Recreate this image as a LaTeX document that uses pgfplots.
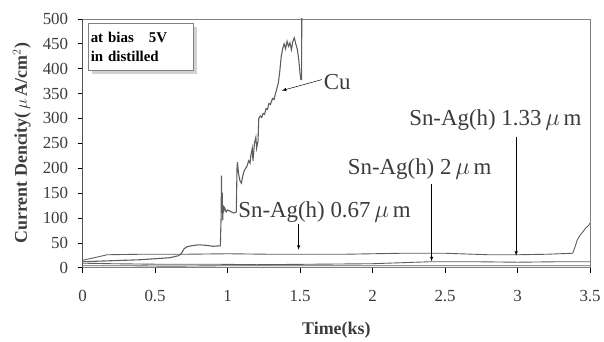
\documentclass[border=0pt]{standalone}
\usepackage{pgfplots}
\pgfplotsset{compat=1.18}
\usepackage{fontspec}
\setmainfont{Liberation Serif}
\usetikzlibrary{shadows}
\definecolor{linegray}{HTML}{5E5E5E}
\definecolor{txtgray}{HTML}{3C3C3C}
\begin{document}
\begin{tikzpicture}
\begin{axis}[name=ax,
  scale only axis, width=510pt, height=250pt,
  xmin=0, xmax=3.5, ymin=0, ymax=500,
  xtick={0,0.5,1,1.5,2,2.5,3,3.5}, ytick={0,50,100,150,200,250,300,350,400,450,500},
  axis line style={gray},
  tick style={black, line width=0.6pt},
  ytick pos=left, xtick pos=bottom,
  tick align=outside, major tick length=5pt,
  /pgf/number format/assume math mode=true,
  /pgf/number format/1000 sep={},
  ticklabel style={font=\fontsize{17}{19}\selectfont, text=txtgray},
  xticklabel style={yshift=-14pt},
  yticklabel style={xshift=-6pt},
]
\draw[black, line width=0.8pt] (axis cs:0,0) -- (axis cs:0,500);
\addplot[linegray, line width=0.9pt] coordinates {(0,4)(0.3,4)(0.6,3)(1.0,4)(1.5,4)(2.0,4)(2.5,4)(3.0,4)(3.5,4)};
\addplot[linegray, line width=0.9pt] coordinates {(0,9)(0.2,8)(0.5,7)(0.9,7)(1.2,6)(1.6,7)(2.0,8)(2.2,10)(2.4,12)(2.7,12)(3.0,11)(3.3,12)(3.5,12)};
\addplot[linegray, line width=0.9pt] coordinates {(0,15)(0.08,20)(0.17,26)(0.4,27)(0.7,27)(1.0,28)(1.3,27)(1.5,27)(1.8,27)(2.0,28)(2.2,29)(2.5,29)(2.7,27)(2.8,26)(3.0,26)(3.2,27)(3.38,29)(3.40,45)(3.41,55)(3.43,65)(3.45,72)(3.47,80)(3.49,85)(3.5,90)};
\addplot[linegray, line width=1.1pt] coordinates {
(0,12)(0.1,13)(0.2,14)(0.3,15)(0.4,16)(0.5,18)(0.6,20)(0.66,24)(0.68,28)(0.70,38)(0.72,42)(0.75,44)(0.8,46)(0.85,45)(0.9,43)(0.95,44)
(0.955,100)(0.958,185)(0.961,110)(0.963,150)(0.966,95)(0.97,125)(0.975,115)(0.98,120)(0.99,112)(1.0,116)(1.02,113)(1.04,110)(1.06,112)
(1.065,200)(1.068,212)(1.075,190)(1.085,175)(1.095,170)(1.105,185)(1.115,195)(1.125,200)(1.135,205)(1.145,215)(1.155,210)(1.16,225)(1.17,240)(1.175,215)(1.185,250)(1.195,262)(1.2,240)(1.21,255)
(1.215,300)(1.225,305)(1.235,302)(1.245,310)(1.255,308)(1.265,320)(1.275,318)(1.285,330)(1.295,328)(1.31,340)(1.32,338)(1.33,350)(1.34,360)(1.35,372)(1.36,395)(1.37,425)(1.38,440)(1.39,450)(1.40,440)(1.41,455)(1.42,445)(1.43,452)(1.44,438)(1.45,455)(1.46,462)(1.47,450)(1.48,440)(1.49,420)(1.50,390)(1.505,378)(1.51,378)(1.512,540)};
\draw[-latex, black, line width=0.5pt] (axis cs:1.65,378) -- (axis cs:1.375,356);
\node[anchor=west, text=txtgray, font=\fontsize{23}{25}\selectfont, inner sep=1pt] at (axis cs:1.655,374) {Cu};
\node[anchor=west, text=txtgray, font=\fontsize{23}{25}\selectfont, inner sep=1pt] at (axis cs:1.066,112) {Sn-Ag(h) 0.67\,$\mu$\,m};
\draw[-latex, black, line width=0.5pt] (axis cs:1.49,88) -- (axis cs:1.49,36);
\node[text=txtgray, font=\fontsize{23}{25}\selectfont, inner sep=1pt] at (axis cs:2.325,198) {Sn-Ag(h) 2\,$\mu$\,m};
\draw[-latex, black, line width=0.5pt] (axis cs:2.407,168) -- (axis cs:2.407,13);
\node[text=txtgray, font=\fontsize{23}{25}\selectfont, inner sep=1pt] at (axis cs:2.847,296) {Sn-Ag(h) 1.33\,$\mu$\,m};
\draw[-latex, black, line width=0.5pt] (axis cs:2.99,262) -- (axis cs:2.99,24);
\end{axis}
\node[text=txtgray, font=\bfseries\fontsize{18}{20}\selectfont, anchor=center] at ([yshift=-63pt]ax.south) {Time(ks)};
\node[text=txtgray, font=\bfseries\fontsize{18}{20}\selectfont, anchor=center, rotate=90] at ([xshift=-61pt]ax.west) {Current Dencity(\,$\mu$\,A/cm$^{2}$)};
\node[anchor=north west, draw=gray, fill=white, minimum width=106pt, minimum height=47pt, inner sep=3pt,
  drop shadow={shadow xshift=4pt, shadow yshift=-4pt, fill=gray!35, opacity=1},
  align=left, font=\bfseries\fontsize{15}{19}\selectfont, text=black, text width=100pt]
  at ([xshift=5pt,yshift=-4pt]ax.north west) {at bias\quad 5V\\in distilled};
\path ([xshift=-83pt,yshift=-71pt]ax.south west) rectangle ([xshift=11pt,yshift=19pt]ax.north east);
\end{tikzpicture}
\end{document}
